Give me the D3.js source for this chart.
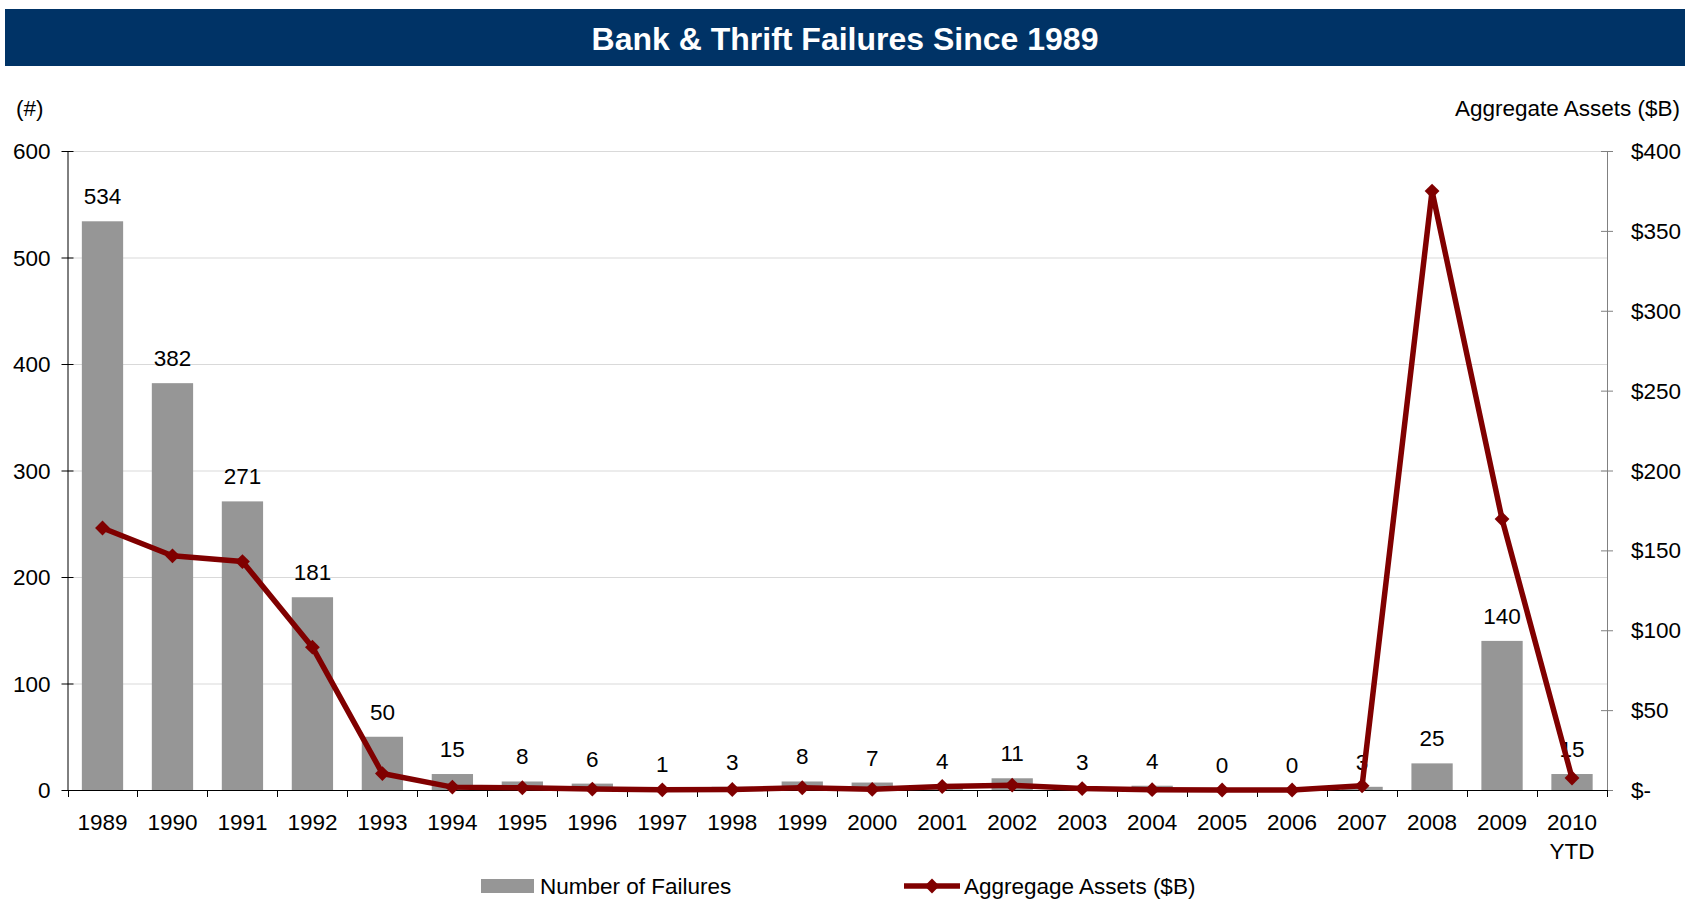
<!DOCTYPE html>
<html>
<head>
<meta charset="utf-8">
<script src="https://cdn.jsdelivr.net/npm/d3@7/dist/d3.min.js"></script>
<style>
  html, body { margin: 0; padding: 0; background: #fff; }
  svg { display: block; font-family: Arial, "Liberation Sans", sans-serif; }
</style>
</head>
<body>
<svg id="chart" width="1696" height="899"></svg>
<script>
const years = ["1989","1990","1991","1992","1993","1994","1995","1996","1997","1998","1999","2000","2001","2002","2003","2004","2005","2006","2007","2008","2009","2010"];
const yearLabels = [["1989"],["1990"],["1991"],["1992"],["1993"],["1994"],["1995"],["1996"],["1997"],["1998"],["1999"],["2000"],["2001"],["2002"],["2003"],["2004"],["2005"],["2006"],["2007"],["2008"],["2009"],["2010","YTD"]];
const failures = [534,382,271,181,50,15,8,6,1,3,8,7,4,11,3,4,0,0,3,25,140,15];
const assets = [164,146.6,143,89.4,10.3,1.8,1.4,0.6,0.1,0.3,1.4,0.4,2.2,3.0,0.9,0.2,0,0,2.6,374.9,169.6,7.5];
const leftTicks = [0,100,200,300,400,500,600];
const rightTicks = [0,50,100,150,200,250,300,350,400];
const rightTickLabels = ["$-","$50","$100","$150","$200","$250","$300","$350","$400"];
const title = "Bank & Thrift Failures Since 1989";
const leftTitle = "(#)";
const rightTitle = "Aggregate Assets ($B)";
const legendBar = "Number of Failures";
const legendLine = "Aggregage Assets ($B)";

const svg = d3.select("#chart");
const L = 67.5, R = 1607, T = 151, B = 790;
const FS = 22.5;

// title band
svg.append("rect").attr("x",5).attr("y",9).attr("width",1680).attr("height",57).attr("fill","#003366");
svg.append("text").attr("x",845).attr("y",50).attr("text-anchor","middle")
  .attr("font-size",32).attr("font-weight","bold").attr("fill","#fff").text(title);

const x = d3.scaleBand().domain(years).range([L,R]).paddingInner(0.41).paddingOuter(0.205);
const xb = d3.scaleBand().domain(years).range([L,R]);
const yL = d3.scaleLinear().domain([0,600]).range([B,T]);
const yR = d3.scaleLinear().domain([0,400]).range([B,T]);

// gridlines
svg.append("g").selectAll("line").data(leftTicks.filter(d=>d>0)).join("line")
  .attr("x1",L).attr("x2",R).attr("y1",d=>yL(d)+0.5).attr("y2",d=>yL(d)+0.5)
  .attr("stroke","#d9d9d9").attr("stroke-width",1);

// bars
svg.append("g").selectAll("rect").data(failures).join("rect")
  .attr("x",(d,i)=>x(years[i])).attr("width",x.bandwidth())
  .attr("y",d=>yL(d)).attr("height",d=>B-yL(d)).attr("fill","#969696");

// bar labels
svg.append("g").selectAll("text").data(failures).join("text")
  .attr("x",(d,i)=>x(years[i])+x.bandwidth()/2).attr("y",d=>yL(d)-17)
  .attr("text-anchor","middle").attr("font-size",FS).attr("fill","#000").text(d=>d);

// left axis
const gl = svg.append("g").attr("transform",`translate(${L},0)`);
gl.append("line").attr("x1",0.5).attr("x2",0.5).attr("y1",T).attr("y2",B).attr("stroke","#000");
gl.selectAll("line.t").data(leftTicks).join("line").attr("class","t")
  .attr("x1",-6).attr("x2",6).attr("y1",d=>yL(d)+0.5).attr("y2",d=>yL(d)+0.5).attr("stroke","#000");
gl.selectAll("text").data(leftTicks).join("text")
  .attr("x",-17).attr("y",d=>yL(d)+8).attr("text-anchor","end").attr("font-size",FS).text(d=>d);

// right axis
const gr = svg.append("g").attr("transform",`translate(${R},0)`);
gr.append("line").attr("x1",0.5).attr("x2",0.5).attr("y1",T).attr("y2",B).attr("stroke","#808080");
gr.selectAll("line.t").data(rightTicks).join("line").attr("class","t")
  .attr("x1",-6).attr("x2",6).attr("y1",d=>yR(d)+0.5).attr("y2",d=>yR(d)+0.5).attr("stroke","#808080");
gr.selectAll("text").data(rightTicks).join("text")
  .attr("x",24).attr("y",d=>yR(d)+8).attr("text-anchor","start").attr("font-size",FS)
  .text((d,i)=>rightTickLabels[i]);

// x axis
const gx = svg.append("g");
gx.append("line").attr("x1",L).attr("x2",R).attr("y1",B+0.5).attr("y2",B+0.5).attr("stroke","#000");
gx.selectAll("line.t").data(years.concat(["end"])).join("line").attr("class","t")
  .attr("x1",(d,i)=>Math.round(L+i*xb.step())+0.5).attr("x2",(d,i)=>Math.round(L+i*xb.step())+0.5)
  .attr("y1",B).attr("y2",B+7).attr("stroke","#000");
const xl = gx.selectAll("text").data(yearLabels).join("text")
  .attr("x",(d,i)=>xb(years[i])+xb.bandwidth()/2).attr("y",830)
  .attr("text-anchor","middle").attr("font-size",FS);
xl.each(function(d){
  const t = d3.select(this);
  d.forEach((s,k)=>t.append("tspan").attr("x",t.attr("x")).attr("dy",k===0?0:29).text(s));
});

// line
const line = d3.line().x((d,i)=>xb(years[i])+xb.bandwidth()/2).y(d=>yR(d));
svg.append("path").datum(assets).attr("d",line).attr("fill","none")
  .attr("stroke","#800000").attr("stroke-width",5.5).attr("stroke-linejoin","round");
svg.append("g").selectAll("path").data(assets).join("path")
  .attr("d",d3.symbol().type(d3.symbolSquare).size(110)).attr("fill","#800000")
  .attr("transform",(d,i)=>`translate(${xb(years[i])+xb.bandwidth()/2},${yR(d)}) rotate(45)`);

// axis titles
svg.append("text").attr("x",16).attr("y",116).attr("font-size",FS).text(leftTitle);
svg.append("text").attr("x",1680).attr("y",116).attr("text-anchor","end").attr("font-size",FS).text(rightTitle);

// legend
const lg = svg.append("g");
lg.append("rect").attr("x",481).attr("y",879).attr("width",53).attr("height",14).attr("fill","#969696");
lg.append("text").attr("x",540).attr("y",894).attr("font-size",FS).text(legendBar);
lg.append("line").attr("x1",904).attr("x2",960).attr("y1",886).attr("y2",886).attr("stroke","#800000").attr("stroke-width",5.5);
lg.append("path").attr("d",d3.symbol().type(d3.symbolSquare).size(110)).attr("fill","#800000")
  .attr("transform","translate(932,886) rotate(45)");
lg.append("text").attr("x",964).attr("y",894).attr("font-size",FS).text(legendLine);
</script>
</body>
</html>
